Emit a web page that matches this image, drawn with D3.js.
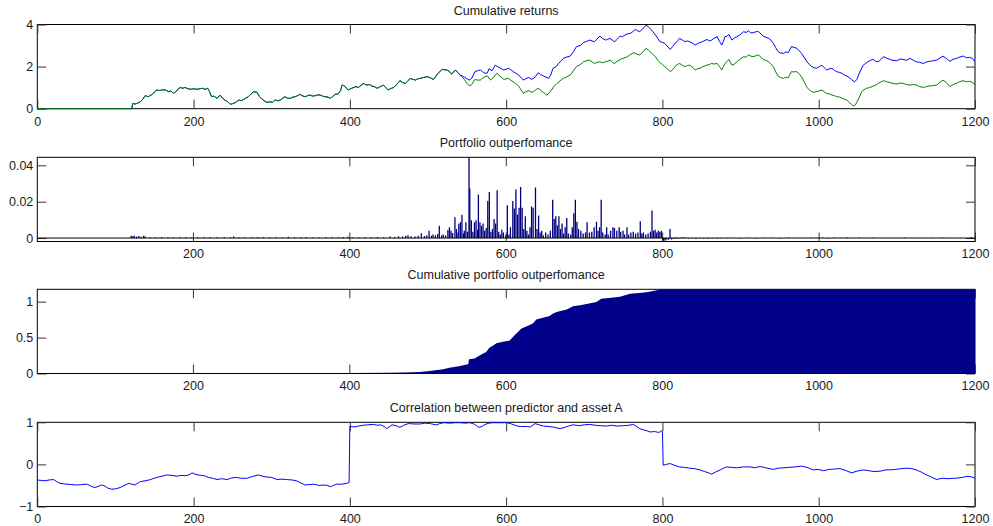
<!DOCTYPE html>
<html>
<head>
<meta charset="utf-8">
<script src="https://cdn.jsdelivr.net/npm/d3@7"></script>
<style>
    body { margin: 0; background: #fff; }
    svg { display: block; font-family: "Liberation Sans", Arial, Helvetica, sans-serif; }
    .tick text { font-size: 12.5px; fill: #1a1a1a; }
    .tick line { stroke: #333; }
    .title { font-size: 12.5px; fill: #1a1a1a; text-anchor: middle; }
</style>
</head>
<body>
<svg id="chart" width="993" height="526"></svg>
<script>
// ---- data (index, value) ----
const sharedReturns = [
    [0,0],[121,0],[122,0.25],[125,0.22],[128,0.26],[132,0.33],[135,0.45],[138,0.62],[142,0.57],[147,0.68],[150,0.8],[153,0.89],
    [157,0.86],[160,0.9],[164,0.89],[168,0.81],[171,0.84],[174,0.73],[177,0.8],[179,0.89],[183,1.01],[186,0.97],[189,1.01],[192,0.96],
    [196,0.92],[200,0.95],[204,0.92],[208,0.95],[211,0.97],[215,0.92],[218,0.97],[220,0.85],[223,0.57],[226,0.6],[230,0.49],[234,0.65],
    [237,0.5],[240,0.41],[243,0.35],[247,0.21],[250,0.24],[253,0.28],[256,0.36],[258,0.41],[261,0.38],[264,0.44],[267,0.5],[270,0.57],
    [273,0.68],[277,0.81],[281,0.78],[285,0.54],[288,0.45],[292,0.33],[295,0.3],[298,0.33],[301,0.3],[304,0.41],[308,0.38],[311,0.41],
    [314,0.5],[317,0.57],[320,0.5],[324,0.49],[327,0.55],[330,0.57],[333,0.62],[336,0.68],[340,0.6],[343,0.57],[346,0.62],[349,0.65],
    [352,0.6],[356,0.62],[359,0.66],[362,0.65],[365,0.6],[368,0.57],[372,0.55],[375,0.49],[378,0.58],[381,0.68],[385,0.7],[388,0.85],
    [390,1.12],[392,1.1],[394,1.05],[396,0.95],[398,0.89],[401,0.95],[405,1.01],[408,1.05],[411,1.01],[414,1.1],[417,1.2],[420,1.15],
    [422,1.12],[425,1.15],[428,1.08],[431,1.05],[435,0.97],[439,1.05],[443,1.12],[446,1.0],[449,0.89],[452,0.95],[456,1.01],[460,1.15],
    [464,1.33],[467,1.25],[471,1.2],[474,1.3],[477,1.44],[480,1.4],[484,1.36],[487,1.42],[490,1.44],[494,1.48],[499,1.52],[503,1.47],
    [507,1.39],[509,1.48],[511,1.6],[514,1.72],[518,1.87],[521,1.85],[524,1.84],[527,1.78],[530,1.65],[533,1.75],[535,1.84],[538,1.72],[541,1.6]
];

const blueTail = [
    [544,1.55],[547,1.49],[550,1.42],[553,1.36],[556,1.45],[560,1.76],[563,1.8],[567,1.84],[570,1.75],[573,1.68],[576,1.7],[578,1.9],
    [582,1.8],[586,2.07],[590,1.98],[594,1.9],[597,1.84],[600,1.88],[603,1.92],[606,1.85],[609,1.76],[612,1.7],[616,1.6],[619,1.48],
    [622,1.36],[625,1.42],[629,1.49],[632,1.4],[635,1.44],[638,1.55],[641,1.71],[644,1.62],[648,1.55],[651,1.5],[654,1.44],[657,1.6],
    [660,1.92],[664,2.0],[667,2.15],[670,2.25],[673,2.39],[677,2.45],[682,2.5],[686,2.7],[690,2.95],[695,3.0],[699,3.14],[703,3.2],
    [707,3.26],[710,3.22],[713,3.18],[716,3.3],[720,3.45],[723,3.35],[727,3.26],[730,3.3],[733,3.34],[736,3.25],[739,3.18],[742,3.3],
    [746,3.45],[749,3.42],[752,3.5],[755,3.55],[759,3.58],[762,3.65],[765,3.77],[768,3.7],[771,3.66],[775,3.8],[779,3.97],[782,3.9],
    [784,3.82],[788,3.65],[791,3.5],[794,3.35],[797,3.18],[800,3.15],[803,3.1],[806,2.98],[810,2.82],[813,2.95],[816,3.1],[819,3.2],
    [822,3.34],[826,3.25],[829,3.18],[832,3.22],[835,3.18],[839,3.1],[842,3.02],[845,3.1],[848,3.14],[852,3.2],[857,3.29],[860,3.22],
    [863,3.26],[866,3.35],[870,3.42],[873,3.2],[876,3.02],[878,3.2],[880,3.42],[883,3.45],[885,3.53],[887,3.4],[889,3.26],[892,3.35],
    [895,3.42],[899,3.5],[904,3.66],[907,3.62],[910,3.7],[913,3.6],[916,3.61],[920,3.66],[923,3.66],[926,3.55],[929,3.45],[932,3.4],
    [936,3.34],[939,3.25],[942,3.1],[945,2.9],[948,2.71],[951,2.65],[955,2.63],[958,2.7],[961,2.66],[965,2.95],[968,2.92],[972,2.87],
    [975,2.75],[978,2.63],[981,2.45],[985,2.23],[988,2.1],[991,2.0],[994,1.95],[997,1.92],[1001,2.0],[1004,2.07],[1007,1.95],[1010,1.84],
    [1014,1.9],[1017,1.92],[1020,1.82],[1023,1.76],[1027,1.72],[1030,1.68],[1033,1.6],[1036,1.55],[1039,1.48],[1042,1.39],[1044,1.32],
    [1046,1.28],[1049,1.4],[1051,1.6],[1054,1.85],[1057,2.07],[1060,2.15],[1063,2.23],[1066,2.3],[1070,2.34],[1073,2.25],[1076,2.23],
    [1080,2.35],[1083,2.47],[1087,2.4],[1091,2.34],[1095,2.3],[1100,2.28],[1104,2.36],[1108,2.34],[1112,2.3],[1117,2.39],[1121,2.3],
    [1125,2.23],[1129,2.2],[1134,2.15],[1138,2.22],[1142,2.25],[1147,2.28],[1151,2.31],[1155,2.4],[1159,2.5],[1163,2.4],[1168,2.25],
    [1172,2.35],[1176,2.38],[1180,2.45],[1185,2.5],[1189,2.42],[1193,2.44],[1197,2.38],[1200,2.23]
];

const greenTail = [
    [544,1.5],[547,1.36],[550,1.2],[553,1.08],[556,1.15],[560,1.39],[563,1.36],[567,1.36],[570,1.45],[573,1.52],[576,1.55],[580,1.36],
    [584,1.5],[588,1.68],[592,1.55],[597,1.39],[600,1.42],[603,1.44],[606,1.35],[609,1.28],[612,1.2],[616,1.08],[619,0.9],[622,0.73],
    [625,0.8],[629,0.86],[632,0.78],[635,0.81],[638,0.9],[641,0.97],[644,0.88],[648,0.76],[650,0.7],[652,0.65],[655,0.75],[658,0.89],
    [661,1.05],[665,1.2],[669,1.32],[673,1.44],[677,1.5],[682,1.6],[686,1.8],[690,2.0],[695,2.1],[699,2.23],[703,2.28],[707,2.31],
    [710,2.22],[713,2.15],[716,2.2],[720,2.23],[723,2.18],[727,2.23],[730,2.26],[733,2.31],[736,2.2],[739,2.15],[742,2.25],[746,2.34],
    [750,2.4],[754,2.44],[758,2.55],[763,2.66],[767,2.6],[771,2.55],[775,2.7],[779,2.87],[782,2.78],[784,2.71],[788,2.58],[791,2.47],
    [794,2.3],[797,2.19],[800,2.1],[803,2.0],[806,1.9],[810,1.76],[813,1.85],[816,2.0],[819,2.1],[822,2.15],[826,2.05],[829,2.0],
    [832,2.05],[835,2.07],[839,1.95],[842,1.84],[845,1.9],[848,1.92],[852,2.0],[857,2.07],[860,2.1],[863,2.15],[866,2.12],[870,2.15],
    [873,2.0],[876,1.84],[878,2.0],[880,2.15],[883,2.25],[885,2.34],[887,2.2],[889,2.07],[892,2.1],[895,2.23],[899,2.35],[904,2.47],
    [907,2.45],[910,2.55],[913,2.5],[916,2.47],[920,2.52],[923,2.55],[926,2.45],[929,2.34],[932,2.3],[936,2.23],[939,2.1],[942,2.0],
    [945,1.75],[948,1.55],[951,1.48],[955,1.44],[958,1.5],[961,1.47],[965,1.76],[968,1.75],[972,1.76],[975,1.65],[978,1.52],[981,1.3],
    [985,1.01],[988,0.9],[991,0.81],[994,0.78],[997,0.81],[1001,0.85],[1004,0.89],[1007,0.8],[1010,0.73],[1014,0.7],[1017,0.65],
    [1020,0.62],[1023,0.57],[1027,0.55],[1030,0.49],[1033,0.45],[1036,0.41],[1039,0.3],[1042,0.2],[1044,0.13],[1047,0.18],[1049,0.33],
    [1052,0.55],[1055,0.81],[1058,0.9],[1061,0.97],[1065,1.0],[1070,1.08],[1073,1.12],[1076,1.2],[1080,1.28],[1083,1.33],[1087,1.28],
    [1091,1.24],[1095,1.2],[1100,1.17],[1104,1.22],[1108,1.2],[1112,1.15],[1117,1.12],[1121,1.15],[1125,1.12],[1129,1.05],[1134,1.01],
    [1138,1.05],[1142,1.08],[1147,1.1],[1151,1.12],[1155,1.25],[1159,1.36],[1163,1.25],[1168,1.05],[1172,1.15],[1176,1.2],[1180,1.28],
    [1185,1.33],[1189,1.28],[1193,1.3],[1197,1.25],[1200,1.12]
];

// bars of the outperformance series (index, value); indices not listed are 0
const outperfBars = [
    [121,0.0012],[123,0.0010],[125,0.0013],[128,0.0009],[131,0.0011],[134,0.0007],[137,0.0012],[139,0.0008],[145,0.0005],[152,0.0004],
    [160,0.0006],[168,0.0004],[175,0.0005],[183,0.0004],[191,0.0006],[198,0.0003],[206,0.0005],[214,0.0004],[222,0.0005],[231,0.0004],
    [240,0.0006],[248,0.0005],[252,0.0008],[259,0.0004],[266,0.0005],[275,0.0004],[283,0.0006],[290,0.0005],[298,0.0004],[306,0.0005],
    [314,0.0004],[322,0.0007],[330,0.0004],[338,0.0005],[345,0.0006],[353,0.0004],[361,0.0005],[370,0.0004],[378,0.0005],[386,0.0004],
    [392,0.0006],[398,0.0007],[404,0.0004],[412,0.0005],[420,0.0004],[428,0.0005],[436,0.0006],[444,0.0005],[452,0.0008],[458,0.0006],
    [463,0.0010],[468,0.0008],[472,0.0012],[475,0.0015],[479,0.0010],[484,0.0009],[488,0.0013],[492,0.0026],[496,0.0011],[499,0.0015],
    [502,0.0040],[505,0.0012],[507,0.0020],[510,0.0016],[513,0.0022],[515,0.0068],[518,0.0014],[520,0.0020],[523,0.0016],[526,0.0044],
    [528,0.0059],[530,0.0040],[532,0.0028],[535,0.0114],[537,0.0050],[539,0.0030],[540,0.0078],[542,0.0087],[544,0.0128],[546,0.0025],
    [547,0.0040],[549,0.0087],[551,0.0035],[553,0.0444],[554,0.0272],[556,0.0098],[558,0.0035],[560,0.0087],[562,0.0098],[564,0.0045],
    [565,0.0240],[567,0.0087],[569,0.0068],[571,0.0080],[573,0.0040],[575,0.0055],[577,0.0204],[579,0.0253],[581,0.0035],[583,0.0050],
    [585,0.0105],[587,0.0080],[589,0.0263],[591,0.0035],[593,0.0020],[595,0.0045],[597,0.0030],[600,0.0015],[602,0.0180],[604,0.0020],
    [606,0.0060],[609,0.0204],[611,0.0163],[613,0.0267],[615,0.0130],[617,0.0167],[619,0.0281],[621,0.0167],[623,0.0050],[625,0.0120],
    [627,0.0040],[629,0.0020],[631,0.0060],[633,0.0174],[635,0.0167],[638,0.0278],[640,0.0050],[642,0.0124],[644,0.0030],[646,0.0040],
    [648,0.0015],[651,0.0030],[654,0.0020],[657,0.0040],[660,0.0211],[662,0.0105],[664,0.0120],[666,0.0070],[668,0.0120],[670,0.0050],
    [672,0.0080],[674,0.0025],[676,0.0060],[678,0.0110],[680,0.0025],[683,0.0020],[685,0.0060],[687,0.0137],[689,0.0211],[691,0.0090],
    [693,0.0050],[696,0.0040],[699,0.0025],[702,0.0030],[704,0.0087],[707,0.0030],[710,0.0035],[713,0.0060],[716,0.0090],[718,0.0040],
    [720,0.0060],[722,0.0211],[724,0.0030],[727,0.0020],[729,0.0060],[731,0.0020],[734,0.0040],[737,0.0060],[739,0.0055],[742,0.0040],
    [745,0.0060],[747,0.0035],[750,0.0040],[752,0.0020],[755,0.0060],[757,0.0020],[760,0.0030],[763,0.0035],[766,0.0025],[769,0.0030],
    [772,0.0092],[774,0.0025],[776,0.0030],[779,0.0020],[782,0.0025],[785,0.0035],[787,0.0152],[789,0.0040],[791,0.0045],[793,0.0030],
    [795,0.0040],[797,0.0035],[799,0.0040],[801,-0.0019],[802,-0.0012],[804,-0.0015],[806,-0.0008],[808,-0.0010],[810,0.0050],
    [812,-0.0008],[815,-0.0005],[818,0.0004],[821,-0.0004],[824,0.0003],[827,0.0005],[830,0.0003],[834,-0.0003],[838,0.0002],
    [843,-0.0004],[848,0.0002],[853,-0.0003],[858,-0.0004],[864,0.0002],[870,-0.0002],[876,0.0002],[884,-0.0002],[892,0.0002],
    [900,-0.0002],[910,0.0002],[920,-0.0002],[930,0.0002],[940,0.0002],[950,-0.0002],[962,0.0003],[970,0.0002],[978,0.0002],
    [990,0.0003],[998,0.0002],[1005,0.0003],[1012,-0.0002],[1020,0.0003],[1028,0.0002],[1036,0.0004],[1045,0.0002],[1052,0.0003],
    [1060,0.0002],[1070,0.0003],[1080,0.0002],[1090,0.0002],[1100,0.0002],[1110,0.0003],[1120,0.0002],[1132,0.0002],[1145,0.0002],
    [1158,0.0003],[1170,0.0002],[1182,0.0002],[1195,0.0004]
];

const cumulativeOutperf = [
    [1,0],[120,0],[130,0.002],[200,0.004],[300,0.005],[400,0.008],[450,0.01],[470,0.015],[490,0.022],[500,0.03],[510,0.045],
    [520,0.06],[528,0.08],[540,0.1],[550,0.125],[552,0.13],[553,0.2],[560,0.21],[565,0.24],[570,0.27],[575,0.3],[579,0.36],
    [584,0.39],[588,0.42],[595,0.44],[605,0.46],[611,0.53],[615,0.57],[620,0.625],[630,0.67],[635,0.7],[639,0.75],[645,0.77],
    [656,0.8],[660,0.83],[665,0.855],[670,0.87],[678,0.89],[686,0.935],[695,0.95],[705,0.97],[716,0.995],[722,1.04],[735,1.055],
    [746,1.07],[759,1.11],[770,1.12],[780,1.13],[793,1.16],[800,1.172],[1200,1.172]
];

const correlation = [
    [0,-0.37],[5,-0.38],[10,-0.39],[15,-0.37],[21,-0.36],[25,-0.41],[29,-0.45],[33,-0.46],[38,-0.47],[44,-0.48],[51,-0.49],[57,-0.48],
    [64,-0.47],[69,-0.52],[74,-0.55],[78,-0.52],[82,-0.49],[85,-0.5],[90,-0.56],[95,-0.59],[100,-0.58],[106,-0.55],[111,-0.5],[117,-0.45],
    [121,-0.47],[125,-0.49],[129,-0.44],[132,-0.41],[138,-0.39],[145,-0.36],[151,-0.32],[157,-0.29],[162,-0.27],[166,-0.25],[172,-0.26],
    [179,-0.28],[184,-0.26],[189,-0.27],[194,-0.25],[198,-0.2],[203,-0.24],[209,-0.26],[214,-0.27],[219,-0.31],[225,-0.33],[230,-0.36],
    [236,-0.34],[243,-0.36],[249,-0.32],[255,-0.31],[261,-0.33],[268,-0.33],[275,-0.29],[283,-0.25],[288,-0.28],[294,-0.3],[300,-0.31],
    [307,-0.36],[313,-0.35],[319,-0.36],[326,-0.37],[332,-0.39],[337,-0.44],[343,-0.49],[348,-0.48],[354,-0.47],[360,-0.5],[366,-0.49],
    [371,-0.5],[375,-0.53],[379,-0.5],[383,-0.47],[389,-0.47],[396,-0.45],[399,-0.43],[400,0.91],[405,0.89],[411,0.91],[417,0.93],
    [423,0.94],[430,0.95],[435,0.93],[439,0.94],[444,0.9],[447,0.85],[451,0.9],[454,0.94],[459,0.92],[464,0.88],[469,0.93],[475,0.97],
    [482,0.96],[490,0.96],[496,0.98],[503,0.97],[507,0.95],[511,0.94],[515,0.97],[520,0.99],[528,0.98],[535,0.99],[541,0.99],[548,0.98],
    [553,0.99],[558,0.97],[562,0.92],[565,0.88],[569,0.9],[573,0.95],[578,0.98],[583,0.99],[588,0.99],[595,0.99],[601,0.99],[607,0.96],
    [614,0.91],[620,0.9],[626,0.9],[631,0.89],[637,0.97],[642,0.94],[648,0.91],[655,0.9],[662,0.88],[669,0.85],[675,0.88],[681,0.92],
    [686,0.94],[693,0.92],[700,0.94],[707,0.95],[714,0.93],[721,0.92],[728,0.91],[735,0.93],[742,0.91],[750,0.92],[757,0.93],[763,0.95],
    [767,0.9],[771,0.85],[776,0.82],[780,0.8],[784,0.77],[790,0.78],[795,0.76],[797,0.77],[799,0.8],[800,0.77],[801,-0.02],[805,0.0],
    [810,0.02],[815,-0.02],[822,-0.06],[828,-0.07],[835,-0.09],[841,-0.1],[848,-0.13],[854,-0.17],[859,-0.2],[863,-0.23],[868,-0.18],
    [874,-0.13],[878,-0.09],[882,-0.06],[888,-0.07],[895,-0.08],[903,-0.06],[912,-0.06],[918,-0.08],[925,-0.05],[932,-0.08],[942,-0.12],
    [948,-0.09],[955,-0.08],[962,-0.07],[970,-0.06],[978,-0.04],[985,-0.07],[993,-0.13],[1000,-0.12],[1006,-0.15],[1013,-0.12],
    [1020,-0.11],[1027,-0.1],[1034,-0.14],[1042,-0.2],[1049,-0.16],[1057,-0.13],[1064,-0.15],[1071,-0.17],[1079,-0.16],[1086,-0.13],
    [1091,-0.13],[1098,-0.12],[1106,-0.1],[1113,-0.09],[1119,-0.1],[1125,-0.13],[1131,-0.18],[1138,-0.25],[1144,-0.3],[1151,-0.36],
    [1155,-0.34],[1159,-0.33],[1165,-0.34],[1172,-0.33],[1176,-0.33],[1183,-0.31],[1191,-0.28],[1196,-0.3],[1200,-0.33]
];

const titles = [
    "Cumulative returns",
    "Portfolio outperfomance",
    "Cumulative portfolio outperfomance",
    "Correlation between predictor and asset A"
];
const xTicksFull = [0, 200, 400, 600, 800, 1000, 1200];
const xTicksNoZero = [200, 400, 600, 800, 1000, 1200];
const yTicksReturns = [0, 2, 4];
const yTicksOutperf = [0, 0.02, 0.04];
const yTicksCumulative = [0, 0.5, 1];
const yTicksCorrelation = [-1, 0, 1];

// ---- layout ----
const plotLeft = 37.3, plotRight = 975;
const panelTops = [24.5, 157.3, 289.3, 422.3];
const panelH = 84.2;
const tickLen = 9;

const svg = d3.select("#chart");

// plain numbers, no thousands separator, real minus sign
const numFmt = d => d === 0 ? "0" : String(d).replace("-", "\u2212");

function makePanel(k, xDomain, yDomain, xTicks, yTicks) {
    const top = panelTops[k];
    const x = d3.scaleLinear().domain(xDomain).range([plotLeft, plotRight]);
    const y = d3.scaleLinear().domain(yDomain).range([top + panelH, top]);
    const g = svg.append("g");

    g.append("text")
        .attr("class", "title")
        .attr("x", (plotLeft + plotRight) / 2)
        .attr("y", top - 10)
        .text(titles[k]);

    // box
    g.append("rect")
        .attr("x", plotLeft).attr("y", top)
        .attr("width", plotRight - plotLeft).attr("height", panelH)
        .attr("fill", "none").attr("stroke", "#000").attr("stroke-width", 1);

    g.append("g")
        .attr("transform", `translate(0,${top + panelH})`)
        .call(d3.axisBottom(x).tickValues(xTicks).tickSizeInner(-tickLen).tickSizeOuter(0).tickPadding(8).tickFormat(numFmt));
    g.append("g")
        .attr("transform", `translate(0,${top})`)
        .call(d3.axisTop(x).tickValues(xTicks).tickSizeInner(-tickLen).tickSizeOuter(0).tickFormat(""));
    g.append("g")
        .attr("transform", `translate(${plotLeft},0)`)
        .call(d3.axisLeft(y).tickValues(yTicks).tickSizeInner(-tickLen).tickSizeOuter(0).tickPadding(4).tickFormat(numFmt));
    g.append("g")
        .attr("transform", `translate(${plotRight},0)`)
        .call(d3.axisRight(y).tickValues(yTicks).tickSizeInner(-tickLen).tickSizeOuter(0).tickFormat(""));

    g.selectAll(".domain").remove();
    g.selectAll(".tick text").attr("font-family", null).attr("font-size", null);

    const clipId = "clip" + k;
    svg.append("clipPath").attr("id", clipId)
        .append("rect")
        .attr("x", plotLeft).attr("y", top - 1)
        .attr("width", plotRight - plotLeft).attr("height", panelH + 2);
    const data = g.append("g").attr("clip-path", `url(#${clipId})`);
    return { x, y, data };
}

// panel 1: cumulative returns
{
    const p = makePanel(0, [0, 1200], [0, 4], xTicksFull, yTicksReturns);
    const line = d3.line().x(d => p.x(d[0])).y(d => p.y(d[1]));
    p.data.append("path").datum(sharedReturns.concat(blueTail))
        .attr("d", line).attr("fill", "none").attr("stroke", "#0000ff").attr("stroke-width", 1);
    p.data.append("path").datum(sharedReturns.concat(greenTail))
        .attr("d", line).attr("fill", "none").attr("stroke", "#008000").attr("stroke-width", 1);
}

// panel 2: portfolio outperformance (bars)
{
    const yMin = d3.min(outperfBars, d => d[1]);
    const yMax = d3.max(outperfBars, d => d[1]);
    const p = makePanel(1, [1, 1200], [yMin, yMax], xTicksNoZero, yTicksOutperf);
    p.data.selectAll("line.bar")
        .data(outperfBars)
        .enter()
        .append("line")
        .attr("class", "bar")
        .attr("x1", d => p.x(d[0])).attr("x2", d => p.x(d[0]))
        .attr("y1", p.y(0)).attr("y2", d => p.y(d[1]))
        .attr("stroke", "#000080").attr("stroke-width", 1.3);
    p.data.append("line")
        .attr("x1", plotLeft).attr("x2", plotRight)
        .attr("y1", p.y(0)).attr("y2", p.y(0))
        .attr("stroke", "#000").attr("stroke-width", 1);
}

// panel 3: cumulative portfolio outperformance (area)
{
    const yMax = d3.max(cumulativeOutperf, d => d[1]);
    const p = makePanel(2, [1, 1200], [0, yMax], xTicksNoZero, yTicksCumulative);
    const area = d3.area().x(d => p.x(d[0])).y0(p.y(0)).y1(d => p.y(d[1]));
    p.data.append("path").datum(cumulativeOutperf)
        .attr("d", area).attr("fill", "#00008b");
    p.data.append("line")
        .attr("x1", plotLeft).attr("x2", plotRight)
        .attr("y1", p.y(0)).attr("y2", p.y(0))
        .attr("stroke", "#000").attr("stroke-width", 1);
}

// panel 4: correlation
{
    const p = makePanel(3, [0, 1200], [-1, 1], xTicksFull, yTicksCorrelation);
    const line = d3.line().x(d => p.x(d[0])).y(d => p.y(d[1]));
    p.data.append("path").datum(correlation)
        .attr("d", line).attr("fill", "none").attr("stroke", "#0000ff").attr("stroke-width", 1);
}
</script>
</body>
</html>
